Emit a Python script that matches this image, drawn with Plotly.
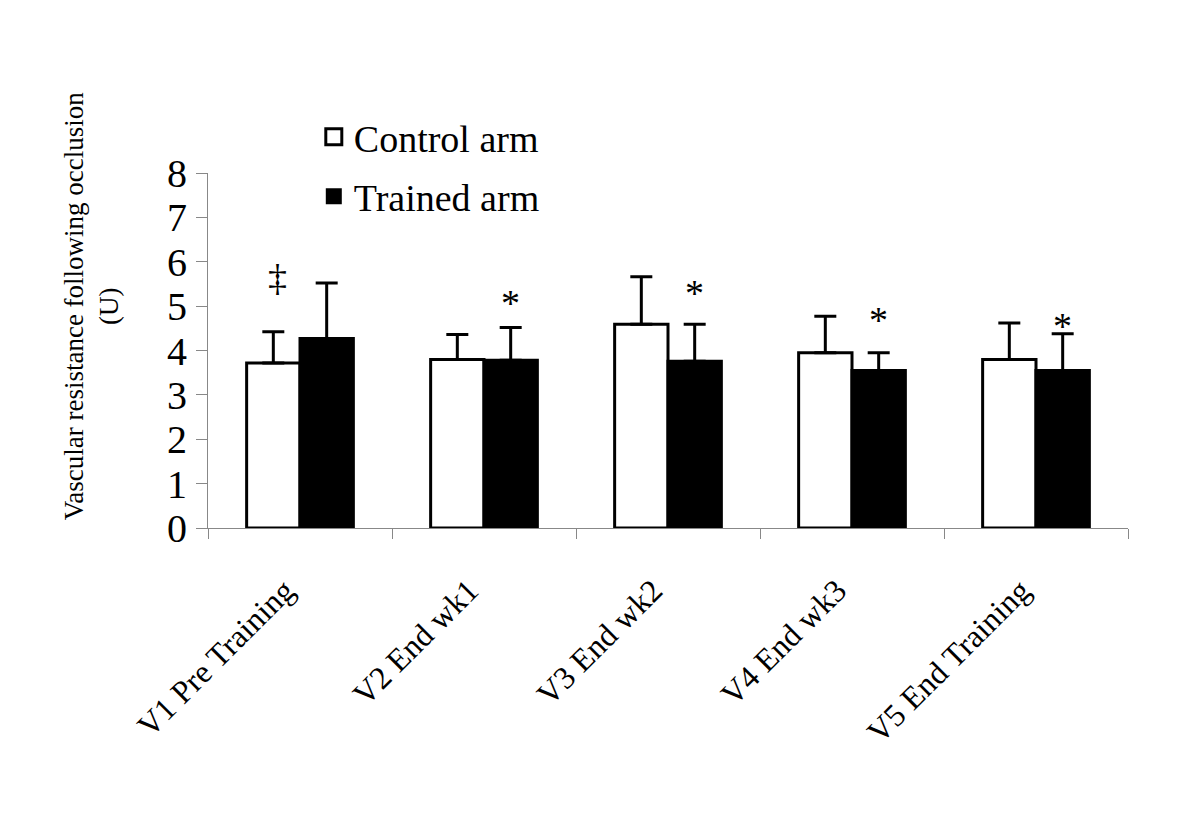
import plotly.graph_objects as go

categories = ["V1 Pre Training", "V2 End wk1", "V3 End wk2", "V4 End wk3", "V5 End Training"]
control_mean = [3.72, 3.80, 4.59, 3.95, 3.80]
control_sd = [0.70, 0.56, 1.07, 0.82, 0.82]
trained_mean = [4.27, 3.78, 3.76, 3.55, 3.55]
trained_sd = [1.25, 0.74, 0.83, 0.40, 0.83]
y_ticks = [0, 1, 2, 3, 4, 5, 6, 7, 8]
# significance markers: (category index, series, symbol, y value)
marks = [(0, "control", "‡", 5.63), (1, "trained", "*", 5.07), (2, "trained", "*", 5.29),
         (3, "trained", "*", 4.69), (4, "trained", "*", 4.55)]

FONT = "Liberation Serif, Times New Roman, serif"
BARGAP = 0.42
half = (1 - BARGAP) / 4  # offset of each bar centre from category centre

fig = go.Figure()
fig.add_trace(go.Bar(
    x=categories, y=control_mean, name="Control arm", showlegend=False,
    marker=dict(color="white", line=dict(color="black", width=3)),
    error_y=dict(type="data", array=control_sd, arrayminus=[0] * 5, symmetric=False,
                 color="black", thickness=3, width=11),
))
fig.add_trace(go.Bar(
    x=categories, y=trained_mean, name="Trained arm", showlegend=False,
    marker=dict(color="black", line=dict(color="black", width=3)),
    error_y=dict(type="data", array=trained_sd, arrayminus=[0] * 5, symmetric=False,
                 color="black", thickness=3, width=11),
))
# legend-only entries with larger square symbols
fig.add_trace(go.Scatter(x=[None], y=[None], mode="markers", name="Control arm",
                         legendgroup="a",
                         marker=dict(symbol="square", size=18, color="white",
                                     line=dict(color="black", width=3))))
fig.add_trace(go.Scatter(x=[None], y=[None], mode="markers", name="Trained arm",
                         legendgroup="b",
                         marker=dict(symbol="square", size=21, color="black",
                                     line=dict(color="black", width=0))))

for idx, series, sym, yv in marks:
    xv = idx - half if series == "control" else idx + half
    fig.add_annotation(x=xv, y=yv, xref="x", yref="y", text=sym, showarrow=False,
                       font=dict(family=FONT, size=38, color="black"),
                       yanchor="middle", xanchor="center", xshift=4 if sym == "‡" else 0)

fig.add_annotation(x=-0.127, y=0.625, xref="paper", yref="paper", textangle=-90,
                   xanchor="center", yanchor="middle",
                   text="Vascular resistance following occlusion<br>(U)", showarrow=False,
                   font=dict(family=FONT, size=27, color="black"), align="center")

fig.update_layout(
    width=1200, height=821,
    paper_bgcolor="white", plot_bgcolor="white",
    margin=dict(l=200, r=80, t=165, b=301, autoexpand=False),
    barmode="group", bargap=BARGAP, bargroupgap=0,
    font=dict(family=FONT, color="black"),
    legend=dict(x=0.115, y=1.19, xanchor="left", yanchor="top",
                font=dict(family=FONT, size=38, color="black"),
                traceorder="grouped", tracegroupgap=7, bgcolor="rgba(0,0,0,0)",
                itemwidth=30),
    xaxis=dict(type="category", tickangle=-45, showline=True, linecolor="#888888", linewidth=1,
               ticks="outside", tickson="boundaries", ticklen=10, tickcolor="#888888",
               tickfont=dict(family=FONT, size=32, color="black"), ticklabelstandoff=30,
               ticklabelshift=-15,
               showgrid=False, zeroline=False, automargin=False),
    yaxis=dict(range=[0, 8], tickvals=y_ticks, showline=True, linecolor="#888888", linewidth=1,
               ticks="outside", ticklen=11, tickcolor="#888888",
               tickfont=dict(family=FONT, size=40, color="black"), ticklabelstandoff=1,
               showgrid=False, zeroline=False, automargin=False),
)

fig.write_html("out.html")
